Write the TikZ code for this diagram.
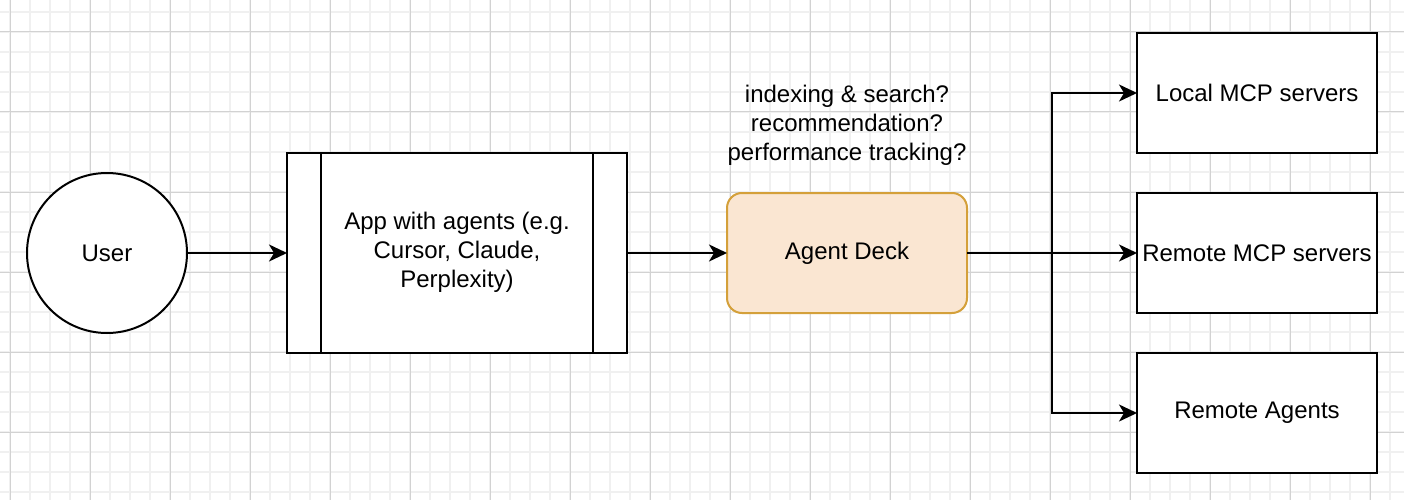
\documentclass[tikz,border=0pt]{standalone}
\usepackage{fontspec}
\setmainfont{Liberation Sans}
\usetikzlibrary{arrows.meta}
\definecolor{gridminor}{HTML}{F0F0F0}
\definecolor{gridmajor}{HTML}{D2D2D2}
\definecolor{deckfill}{HTML}{FAE6D2}
\definecolor{deckdraw}{HTML}{D4A03A}
\tikzset{
  box/.style={draw=black, line width=2pt, fill=white, inner sep=0pt, outer sep=0pt, align=center, font=\fontsize{24}{29}\selectfont},
  conn/.style={line width=2pt, -{Stealth[length=18pt,width=17pt,inset=5pt]}},
  plain/.style={line width=2pt},
}
\begin{document}
\begin{tikzpicture}[x=1pt,y=-1pt]
\useasboundingbox (0,0) rectangle (1404,500);
\fill[white] (0,0) rectangle (1404,500);
% grid
\foreach \x in {10,30,...,1404} {\draw[gridminor, line width=1.5pt] (\x,0) -- (\x,500);}
\foreach \y in {12,32,...,500} {\draw[gridminor, line width=1.5pt] (0,\y) -- (1404,\y);}
\foreach \x in {10,90,...,1404} {\draw[gridmajor, line width=1pt] (\x,0) -- (\x,500);}
\foreach \y in {32,112,...,500} {\draw[gridmajor, line width=1pt] (0,\y) -- (1404,\y);}
% nodes
\node[box, circle, minimum size=160pt] (user) at (107,253) {\raisebox{-2pt}{User}};
\node[box, minimum width=340pt, minimum height=200pt] (app) at (457,253) {\raisebox{-2pt}{\begin{tabular}{@{}c@{}}App with agents (e.g.\\[0pt]Cursor, Claude,\\Perplexity)\end{tabular}}};
\draw[plain] ([xshift=34pt]app.north west) -- ([xshift=34pt]app.south west);
\draw[plain] ([xshift=-34pt]app.north east) -- ([xshift=-34pt]app.south east);
\node[box, draw=deckdraw, fill=deckfill, rounded corners=15pt, minimum width=240pt, minimum height=120pt] (deck) at (847,253) {\raisebox{-2pt}{Agent Deck}};
\node[align=center, inner sep=0pt, font=\fontsize{24}{29}\selectfont] (q) at (847,125) {indexing \& search?\\recommendation?\\performance tracking?};
\node[box, minimum width=240pt, minimum height=120pt] (b1) at (1257,93) {\raisebox{-2pt}{Local MCP servers}};
\node[box, minimum width=240pt, minimum height=120pt] (b2) at (1257,253) {\raisebox{-2pt}{Remote MCP servers}};
\node[box, minimum width=240pt, minimum height=120pt] (b3) at (1257,413) {\raisebox{-2pt}{Remote Agents}};
\coordinate (j) at (1052,253);
% connectors
\draw[conn] (user.east) -- (app.west);
\draw[conn] (app.east) -- (deck.west);
\draw[conn] (deck.east) -- (b2.west);
\draw[conn] (j) |- (b1.west);
\draw[conn] (j) |- (b3.west);
\end{tikzpicture}
\end{document}
